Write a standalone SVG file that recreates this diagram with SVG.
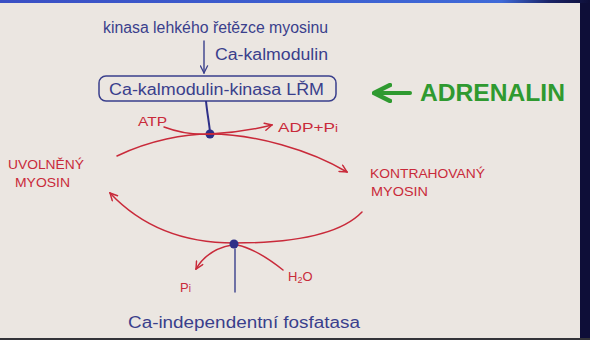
<svg xmlns="http://www.w3.org/2000/svg" width="590" height="340" viewBox="0 0 590 340">
<defs>
<linearGradient id="topbar" x1="0" y1="0" x2="1" y2="0">
<stop offset="0" stop-color="#3a4fc4"/>
<stop offset="0.85" stop-color="#3f6ad8"/>
<stop offset="0.93" stop-color="#1a2468"/>
<stop offset="1" stop-color="#0e0e38"/>
</linearGradient>
<marker id="arrRed" viewBox="0 0 10 10" refX="9" refY="5" markerWidth="9" markerHeight="9" orient="auto" markerUnits="userSpaceOnUse">
<path d="M1,1 L9,5 L1,9" fill="none" stroke="#c92a3a" stroke-width="1.6" stroke-linecap="round"/>
</marker>
<marker id="arrBlue" viewBox="0 0 10 10" refX="9" refY="5" markerWidth="9" markerHeight="9" orient="auto" markerUnits="userSpaceOnUse">
<path d="M1,1 L9,5 L1,9" fill="none" stroke="#3a3f8c" stroke-width="1.4" stroke-linecap="round"/>
</marker>
<marker id="arrGreen" viewBox="0 0 10 10" refX="8" refY="5" markerWidth="5" markerHeight="5" orient="auto" markerUnits="strokeWidth">
<path d="M1,1 L9,5 L1,9" fill="none" stroke="#2f9a30" stroke-width="2.2" stroke-linecap="round" stroke-linejoin="round"/>
</marker>
</defs>
<style>
.blue{font-family:"Liberation Sans",Arial,sans-serif;fill:#3a3f8c;font-size:16px}
.red{font-family:"Liberation Sans",Arial,sans-serif;fill:#c92a3a;font-size:13px}
.green{font-family:"Liberation Sans",Arial,sans-serif;fill:#2f9a30;font-size:23px;font-weight:bold}
.rl{fill:none;stroke:#c92a3a;stroke-width:1.5;stroke-linecap:round}
.bl{fill:none;stroke:#3a3f8c;stroke-width:1.4;stroke-linecap:round}
</style>
<!-- background -->
<rect x="0" y="0" width="590" height="340" fill="#0e0e38"/>
<rect x="0" y="3" width="580" height="335" fill="#ebe6e1"/>
<rect x="0" y="0" width="590" height="3" fill="url(#topbar)"/>
<rect x="0" y="338" width="590" height="2" fill="#333338"/>

<g id="kinasa-lehkeho">
<text class="blue" x="103" y="33" font-size="15" textLength="225" lengthAdjust="spacingAndGlyphs">kinasa lehkého řetězce myosinu</text>
</g>
<g id="ca-kalmodulin-label">
<text class="blue" x="215" y="60" textLength="113" lengthAdjust="spacingAndGlyphs">Ca-kalmodulin</text>
</g>
<g id="mlck-box">
<rect x="99" y="76" width="237" height="25" rx="7" fill="none" stroke="#3a3f8c" stroke-width="1.5"/>
<text class="blue" x="109" y="95" textLength="215" lengthAdjust="spacingAndGlyphs">Ca-kalmodulin-kinasa LŘM</text>
</g>
<g id="adrenalin">
<text class="green" x="420" y="101" textLength="145" lengthAdjust="spacingAndGlyphs">ADRENALIN</text>
</g>
<g id="uvolneny">
<text class="red" x="8" y="169" textLength="76" lengthAdjust="spacingAndGlyphs">UVOLNĚNÝ</text>
<text class="red" x="15" y="187" textLength="55" lengthAdjust="spacingAndGlyphs">MYOSIN</text>
</g>
<g id="kontrahovany">
<text class="red" x="370" y="178" textLength="115" lengthAdjust="spacingAndGlyphs">KONTRAHOVANÝ</text>
<text class="red" x="371" y="196" textLength="57" lengthAdjust="spacingAndGlyphs">MYOSIN</text>
</g>
<g id="atp"><text class="red" x="138" y="126" textLength="29" lengthAdjust="spacingAndGlyphs">ATP</text></g>
<g id="adp"><text class="red" x="278" y="132" textLength="60" lengthAdjust="spacingAndGlyphs">ADP+P<tspan font-size="10">i</tspan></text></g>
<g id="pi"><text class="red" x="180" y="292">P<tspan font-size="10">i</tspan></text></g>
<g id="h2o"><text class="red" x="288" y="281">H<tspan font-size="9" dy="2">2</tspan><tspan dy="-2">O</tspan></text></g>
<g id="fosfatasa">
<text class="blue" x="128" y="328" textLength="232" lengthAdjust="spacingAndGlyphs">Ca-independentní fosfatasa</text>
</g>

<g id="connectors">
<path class="bl" d="M204,41 L204,73" marker-end="url(#arrBlue)"/>
<path d="M410,93 L376,93" fill="none" stroke="#2f9a30" stroke-width="4" stroke-linecap="round" marker-end="url(#arrGreen)"/>
<path d="M206,101 C207,112 209,122 210,132" fill="none" stroke="#2e2f88" stroke-width="2"/>
<circle cx="210" cy="134" r="4.5" fill="#2e2f88"/>
<path class="rl" d="M117,156 C150,140 185,134 210,134 C255,134 310,150 347,172" marker-end="url(#arrRed)"/>
<path class="rl" d="M164,127 C180,133 195,135 210,134 C235,133 252,130 272,125" marker-end="url(#arrRed)"/>
<path class="rl" d="M362,212 C340,235 290,243 234,243 C180,243 140,225 110,193" marker-end="url(#arrRed)"/>
<path class="rl" d="M232,245 C215,248 203,257 196,269" marker-end="url(#arrRed)"/>
<path class="rl" d="M283,270 C268,258 252,248 237,245"/>
<path class="bl" d="M235,249 L235,292"/>
<circle cx="234" cy="244" r="4.5" fill="#2e2f88"/>
</g>
</svg>
